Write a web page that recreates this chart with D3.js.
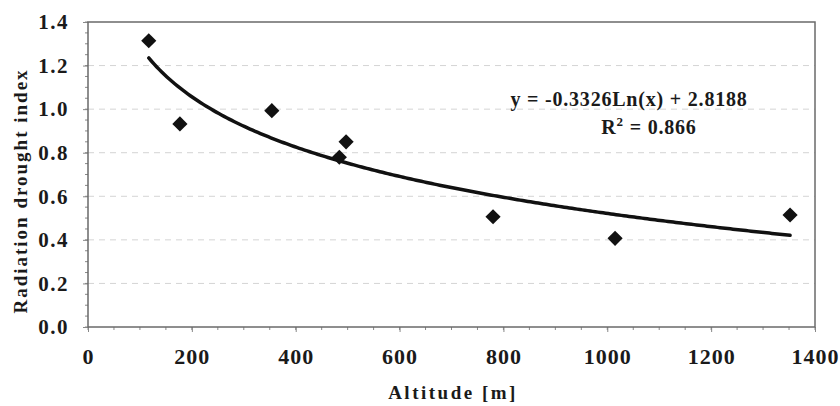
<!DOCTYPE html>
<html>
<head>
<meta charset="utf-8">
<script src="https://cdn.jsdelivr.net/npm/d3@7"></script>
<style>
  body { margin: 0; background: #fff; }
  svg text { font-family: "Liberation Serif", Tinos, "Times New Roman", Times, "DejaVu Serif", serif !important; font-weight: bold; fill: #1a1a1a; }
</style>
</head>
<body>
<script>
// Data
var altitude = [117, 177, 354, 484, 497, 780, 1015, 1352];
var droughtIndex = [1.314, 0.932, 0.993, 0.779, 0.850, 0.506, 0.407, 0.514];
var xTicks = [0, 200, 400, 600, 800, 1000, 1200, 1400];
var yTicks = [0.0, 0.2, 0.4, 0.6, 0.8, 1.0, 1.2, 1.4];
// Logarithmic trendline as printed on the chart
var trendSlope = -0.3326,
    trendIntercept = 2.8188,
    trendR2 = 0.866;

var margin = {top: 22, right: 25, bottom: 79, left: 88},
    width = 840 - margin.left - margin.right,
    height = 406 - margin.top - margin.bottom;

var svg = d3.select("body").append("svg")
    .attr("width", 840)
    .attr("height", 406)
  .append("g")
    .attr("transform", "translate(" + margin.left + "," + margin.top + ")");

var x = d3.scaleLinear().domain([0, 1400]).range([0, width]),
    y = d3.scaleLinear().domain([0, 1.4]).range([height, 0]);

// Dashed grid lines
svg.append("g")
  .selectAll("line")
  .data(yTicks.filter(function(d) { return d > 0 && d < 1.4; }))
  .enter().append("line")
    .attr("x1", 0)
    .attr("x2", width)
    .attr("y1", function(d) { return y(d); })
    .attr("y2", function(d) { return y(d); })
    .attr("stroke", "#d4d4d4")
    .attr("stroke-width", 1)
    .attr("stroke-dasharray", "6,5");

// Minor ticks
svg.append("g")
  .selectAll("line")
  .data(d3.range(0, 1.4001, 0.05))
  .enter().append("line")
    .attr("x1", -3).attr("x2", 0)
    .attr("y1", function(d) { return y(d); })
    .attr("y2", function(d) { return y(d); })
    .attr("stroke", "#888");
svg.append("g")
  .selectAll("line")
  .data(d3.range(0, 1401, 50))
  .enter().append("line")
    .attr("y1", height).attr("y2", height + 3)
    .attr("x1", function(d) { return x(d); })
    .attr("x2", function(d) { return x(d); })
    .attr("stroke", "#888");

// Axes
var xAxis = d3.axisBottom(x).tickValues(xTicks).tickFormat(d3.format("d")).tickSize(5).tickPadding(16),
    yAxis = d3.axisLeft(y).tickValues(yTicks).tickFormat(d3.format(".1f")).tickSize(5).tickPadding(14);

svg.append("g")
    .attr("class", "x axis")
    .attr("transform", "translate(0," + height + ")")
    .call(xAxis)
    .call(function(g) {
      g.select(".domain").remove();
      g.selectAll("line").attr("stroke", "#888");
      g.selectAll("text").attr("font-size", 22).attr("letter-spacing", 1);
    });

svg.append("g")
    .attr("class", "y axis")
    .call(yAxis)
    .call(function(g) {
      g.select(".domain").remove();
      g.selectAll("line").attr("stroke", "#888");
      g.selectAll("text").attr("font-size", 21).attr("letter-spacing", 1.5);
    });

// Plot frame
svg.append("rect")
    .attr("width", width)
    .attr("height", height)
    .attr("fill", "none")
    .attr("stroke", "#6a6a6a")
    .attr("stroke-width", 1.5);

// Trendline over the range of the data
var trendX = d3.range(d3.min(altitude), d3.max(altitude) + 1, 5);
var line = d3.line()
    .x(function(d) { return x(d); })
    .y(function(d) { return y(trendSlope * Math.log(d) + trendIntercept); });

svg.append("path")
    .datum(trendX)
    .attr("fill", "none")
    .attr("stroke", "#111")
    .attr("stroke-width", 3.5)
    .attr("stroke-linecap", "round")
    .attr("d", line);

// Diamond markers
svg.append("g")
  .selectAll("path")
  .data(altitude)
  .enter().append("path")
    .attr("d", d3.symbol().type(d3.symbolSquare).size(115))
    .attr("transform", function(d, i) {
      return "translate(" + x(d) + "," + y(droughtIndex[i]) + ") rotate(45)";
    })
    .attr("fill", "#111");

// Equation labels
svg.append("text")
    .attr("x", 629 - margin.left)
    .attr("y", 106 - margin.top)
    .attr("text-anchor", "middle")
    .attr("font-size", 20)
    .attr("letter-spacing", 0.8)
    .text("y = " + trendSlope + "Ln(x) + " + trendIntercept);

var r2 = svg.append("text")
    .attr("x", 649 - margin.left)
    .attr("y", 134 - margin.top)
    .attr("text-anchor", "middle")
    .attr("font-size", 20)
    .attr("letter-spacing", 0.8);
r2.append("tspan").text("R");
r2.append("tspan").attr("font-size", 13).attr("dy", -8).text("2");
r2.append("tspan").attr("dy", 8).text(" = " + trendR2);

// Axis titles
svg.append("text")
    .attr("x", 453 - margin.left)
    .attr("y", 399 - margin.top)
    .attr("text-anchor", "middle")
    .attr("font-size", 19)
    .attr("letter-spacing", 2.5)
    .text("Altitude [m]");

svg.append("text")
    .attr("transform", "translate(" + (27 - margin.left) + "," + (191 - margin.top) + ") rotate(-90)")
    .attr("text-anchor", "middle")
    .attr("font-size", 19)
    .attr("letter-spacing", 2)
    .text("Radiation drought index");
</script>
</body>
</html>
